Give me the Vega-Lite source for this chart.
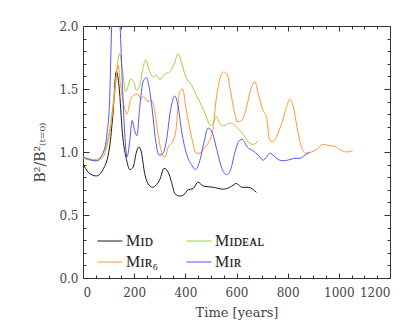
{
  "$schema": "https://vega.github.io/schema/vega-lite/v6.json",
  "autosize": "none",
  "width": 307,
  "height": 252,
  "padding": {"left": 83, "top": 26, "right": 25, "bottom": 54},
  "background": "white",
  "config": {
    "view": {"stroke": "#333", "strokeWidth": 1},
    "font": "DejaVu Serif",
    "axis": {"labelFont": "DejaVu Serif", "titleFont": "DejaVu Serif", "labelColor": "#444", "titleColor": "#444", "domainColor": "#333", "tickColor": "#333", "grid": false, "titleFontWeight": "normal"}
  },
  "data": {"values": [
    {"s":"M_ID","t":0,"v":0.91},{"s":"M_ID","t":20,"v":0.84},{"s":"M_ID","t":52,"v":0.81},{"s":"M_ID","t":78,"v":0.86},{"s":"M_ID","t":104,"v":1.04},{"s":"M_ID","t":117,"v":1.30},{"s":"M_ID","t":130,"v":1.64},{"s":"M_ID","t":141,"v":1.52},{"s":"M_ID","t":154,"v":1.15},{"s":"M_ID","t":170,"v":0.94},{"s":"M_ID","t":183,"v":0.86},{"s":"M_ID","t":196,"v":0.88},{"s":"M_ID","t":209,"v":1.00},{"s":"M_ID","t":219,"v":1.04},{"s":"M_ID","t":228,"v":1.00},{"s":"M_ID","t":241,"v":0.83},{"s":"M_ID","t":254,"v":0.75},{"s":"M_ID","t":271,"v":0.72},{"s":"M_ID","t":287,"v":0.74},{"s":"M_ID","t":300,"v":0.78},{"s":"M_ID","t":317,"v":0.87},{"s":"M_ID","t":333,"v":0.84},{"s":"M_ID","t":346,"v":0.76},{"s":"M_ID","t":359,"v":0.67},{"s":"M_ID","t":378,"v":0.65},{"s":"M_ID","t":394,"v":0.66},{"s":"M_ID","t":411,"v":0.70},{"s":"M_ID","t":430,"v":0.71},{"s":"M_ID","t":450,"v":0.76},{"s":"M_ID","t":470,"v":0.73},{"s":"M_ID","t":509,"v":0.72},{"s":"M_ID","t":548,"v":0.705},{"s":"M_ID","t":574,"v":0.72},{"s":"M_ID","t":600,"v":0.75},{"s":"M_ID","t":620,"v":0.72},{"s":"M_ID","t":646,"v":0.72},{"s":"M_ID","t":678,"v":0.68},
    {"s":"M_IDEAL","t":0,"v":0.96},{"s":"M_IDEAL","t":52,"v":0.94},{"s":"M_IDEAL","t":78,"v":0.99},{"s":"M_IDEAL","t":104,"v":1.17},{"s":"M_IDEAL","t":124,"v":1.49},{"s":"M_IDEAL","t":143,"v":1.78},{"s":"M_IDEAL","t":153,"v":1.675},{"s":"M_IDEAL","t":167,"v":1.48},{"s":"M_IDEAL","t":187,"v":1.58},{"s":"M_IDEAL","t":198,"v":1.56},{"s":"M_IDEAL","t":209,"v":1.49},{"s":"M_IDEAL","t":222,"v":1.53},{"s":"M_IDEAL","t":235,"v":1.67},{"s":"M_IDEAL","t":245,"v":1.73},{"s":"M_IDEAL","t":261,"v":1.635},{"s":"M_IDEAL","t":276,"v":1.595},{"s":"M_IDEAL","t":287,"v":1.61},{"s":"M_IDEAL","t":300,"v":1.575},{"s":"M_IDEAL","t":320,"v":1.62},{"s":"M_IDEAL","t":339,"v":1.635},{"s":"M_IDEAL","t":355,"v":1.69},{"s":"M_IDEAL","t":372,"v":1.78},{"s":"M_IDEAL","t":385,"v":1.71},{"s":"M_IDEAL","t":402,"v":1.595},{"s":"M_IDEAL","t":424,"v":1.53},{"s":"M_IDEAL","t":443,"v":1.45},{"s":"M_IDEAL","t":463,"v":1.37},{"s":"M_IDEAL","t":480,"v":1.29},{"s":"M_IDEAL","t":498,"v":1.21},{"s":"M_IDEAL","t":509,"v":1.225},{"s":"M_IDEAL","t":522,"v":1.28},{"s":"M_IDEAL","t":535,"v":1.225},{"s":"M_IDEAL","t":550,"v":1.21},{"s":"M_IDEAL","t":574,"v":1.23},{"s":"M_IDEAL","t":593,"v":1.21},{"s":"M_IDEAL","t":613,"v":1.17},{"s":"M_IDEAL","t":633,"v":1.12},{"s":"M_IDEAL","t":650,"v":1.07},{"s":"M_IDEAL","t":665,"v":1.06},{"s":"M_IDEAL","t":685,"v":1.09},
    {"s":"M_IR6","t":0,"v":0.95},{"s":"M_IR6","t":52,"v":0.93},{"s":"M_IR6","t":78,"v":0.96},{"s":"M_IR6","t":104,"v":1.15},{"s":"M_IR6","t":124,"v":1.46},{"s":"M_IR6","t":137,"v":1.69},{"s":"M_IR6","t":146,"v":1.54},{"s":"M_IR6","t":159,"v":1.38},{"s":"M_IR6","t":172,"v":1.30},{"s":"M_IR6","t":185,"v":1.41},{"s":"M_IR6","t":198,"v":1.45},{"s":"M_IR6","t":215,"v":1.46},{"s":"M_IR6","t":226,"v":1.42},{"s":"M_IR6","t":237,"v":1.44},{"s":"M_IR6","t":254,"v":1.40},{"s":"M_IR6","t":267,"v":1.41},{"s":"M_IR6","t":280,"v":1.33},{"s":"M_IR6","t":293,"v":1.15},{"s":"M_IR6","t":307,"v":1.00},{"s":"M_IR6","t":320,"v":0.96},{"s":"M_IR6","t":333,"v":1.04},{"s":"M_IR6","t":350,"v":1.08},{"s":"M_IR6","t":363,"v":1.17},{"s":"M_IR6","t":378,"v":1.48},{"s":"M_IR6","t":389,"v":1.50},{"s":"M_IR6","t":404,"v":1.33},{"s":"M_IR6","t":424,"v":1.12},{"s":"M_IR6","t":443,"v":0.99},{"s":"M_IR6","t":457,"v":0.99},{"s":"M_IR6","t":472,"v":1.03},{"s":"M_IR6","t":489,"v":1.07},{"s":"M_IR6","t":506,"v":1.16},{"s":"M_IR6","t":522,"v":1.44},{"s":"M_IR6","t":537,"v":1.595},{"s":"M_IR6","t":550,"v":1.635},{"s":"M_IR6","t":563,"v":1.62},{"s":"M_IR6","t":576,"v":1.49},{"s":"M_IR6","t":593,"v":1.305},{"s":"M_IR6","t":603,"v":1.24},{"s":"M_IR6","t":620,"v":1.25},{"s":"M_IR6","t":636,"v":1.33},{"s":"M_IR6","t":655,"v":1.49},{"s":"M_IR6","t":672,"v":1.56},{"s":"M_IR6","t":685,"v":1.46},{"s":"M_IR6","t":704,"v":1.33},{"s":"M_IR6","t":717,"v":1.28},{"s":"M_IR6","t":730,"v":1.09},{"s":"M_IR6","t":741,"v":1.08},{"s":"M_IR6","t":756,"v":1.12},{"s":"M_IR6","t":776,"v":1.225},{"s":"M_IR6","t":796,"v":1.36},{"s":"M_IR6","t":809,"v":1.42},{"s":"M_IR6","t":822,"v":1.36},{"s":"M_IR6","t":839,"v":1.17},{"s":"M_IR6","t":854,"v":1.04},{"s":"M_IR6","t":871,"v":0.99},{"s":"M_IR6","t":893,"v":1.00},{"s":"M_IR6","t":913,"v":1.02},{"s":"M_IR6","t":937,"v":1.06},{"s":"M_IR6","t":965,"v":1.05},{"s":"M_IR6","t":985,"v":1.045},{"s":"M_IR6","t":1004,"v":1.02},{"s":"M_IR6","t":1030,"v":1.00},{"s":"M_IR6","t":1054,"v":1.01},
    {"s":"M_IR","t":0,"v":0.96},{"s":"M_IR","t":52,"v":0.93},{"s":"M_IR","t":78,"v":0.99},{"s":"M_IR","t":94,"v":1.15},{"s":"M_IR","t":104,"v":1.41},{"s":"M_IR","t":112,"v":2.0},{"s":"M_IR","t":122,"v":2.4},{"s":"M_IR","t":135,"v":2.35},{"s":"M_IR","t":145,"v":2.0},{"s":"M_IR","t":154,"v":1.54},{"s":"M_IR","t":163,"v":1.15},{"s":"M_IR","t":172,"v":0.96},{"s":"M_IR","t":183,"v":1.09},{"s":"M_IR","t":192,"v":1.25},{"s":"M_IR","t":202,"v":1.17},{"s":"M_IR","t":211,"v":1.13},{"s":"M_IR","t":222,"v":1.36},{"s":"M_IR","t":235,"v":1.56},{"s":"M_IR","t":248,"v":1.59},{"s":"M_IR","t":258,"v":1.52},{"s":"M_IR","t":271,"v":1.33},{"s":"M_IR","t":284,"v":1.09},{"s":"M_IR","t":297,"v":0.975},{"s":"M_IR","t":313,"v":0.99},{"s":"M_IR","t":326,"v":1.09},{"s":"M_IR","t":342,"v":1.33},{"s":"M_IR","t":359,"v":1.445},{"s":"M_IR","t":372,"v":1.36},{"s":"M_IR","t":385,"v":1.17},{"s":"M_IR","t":404,"v":0.99},{"s":"M_IR","t":424,"v":0.90},{"s":"M_IR","t":440,"v":0.86},{"s":"M_IR","t":457,"v":0.935},{"s":"M_IR","t":472,"v":1.07},{"s":"M_IR","t":489,"v":1.19},{"s":"M_IR","t":506,"v":1.15},{"s":"M_IR","t":524,"v":1.01},{"s":"M_IR","t":541,"v":0.88},{"s":"M_IR","t":561,"v":0.82},{"s":"M_IR","t":577,"v":0.86},{"s":"M_IR","t":593,"v":0.99},{"s":"M_IR","t":610,"v":1.09},{"s":"M_IR","t":623,"v":1.10},{"s":"M_IR","t":642,"v":1.04},{"s":"M_IR","t":665,"v":1.01},{"s":"M_IR","t":685,"v":0.975},{"s":"M_IR","t":704,"v":0.935},{"s":"M_IR","t":717,"v":0.96},{"s":"M_IR","t":730,"v":0.99},{"s":"M_IR","t":746,"v":0.97},{"s":"M_IR","t":763,"v":0.94},{"s":"M_IR","t":783,"v":0.93},{"s":"M_IR","t":809,"v":0.94},{"s":"M_IR","t":828,"v":0.95},{"s":"M_IR","t":848,"v":0.95},{"s":"M_IR","t":867,"v":0.975},{"s":"M_IR","t":887,"v":1.00}
  ]},
  "resolve": {"axis": {"x": "independent", "y": "independent"}},
  "layer": [
    {
      "mark": {"type": "line", "strokeWidth": 1, "clip": true, "interpolate": "monotone"},
      "encoding": {
        "x": {"field": "t", "type": "quantitative", "scale": {"domain": [0, 1200], "nice": false},
          "axis": {"orient": "bottom", "values": [0,200,400,600,800,1000,1200], "format": "d", "tickSize": -5, "labelPadding": 14, "labelFontSize": 12, "title": "Time [years]", "titleFontSize": 13, "titlePadding": 8, "domain": false}},
        "y": {"field": "v", "type": "quantitative", "scale": {"domain": [0, 2], "nice": false},
          "axis": {"orient": "left", "values": [0,0.5,1,1.5,2], "format": ".1f", "tickSize": -6, "labelPadding": 11, "labelFontSize": 12, "title": "B²/B²₍ₜ₌₀₎", "titleFontSize": 14, "titlePadding": 11, "domain": false}},
        "color": {"field": "s", "type": "nominal",
          "scale": {"domain": ["M_ID", "M_IR6", "M_IDEAL", "M_IR"], "range": ["#1a1a1a", "#ff9933", "#9fd23c", "#5555ff"]},
          "legend": {"orient": "none", "legendX": 14, "legendY": 202, "columns": 2, "columnPadding": 25, "rowPadding": -2, "title": null, "symbolType": "stroke", "symbolSize": 625, "symbolStrokeWidth": 1, "labelFontSize": 16, "labelFont": "Liberation Serif", "labelColor": "#222", "labelOffset": 3,
            "labelExpr": "datum.value == 'M_ID' ? 'Mɪᴅ' : datum.value == 'M_IDEAL' ? 'Mɪᴅᴇᴀʟ' : datum.value == 'M_IR6' ? 'Mɪʀ₆' : 'Mɪʀ'"}}
      }
    },
    {
      "mark": {"type": "point", "opacity": 0},
      "encoding": {
        "x": {"field": "t", "type": "quantitative", "axis": {"orient": "bottom", "values": [50,100,150,250,300,350,450,500,550,650,700,750,850,900,950,1050,1100,1150], "tickSize": -3, "labels": false, "title": null, "domain": false}},
        "y": {"field": "v", "type": "quantitative", "axis": {"orient": "left", "values": [0.1,0.2,0.3,0.4,0.6,0.7,0.8,0.9,1.1,1.2,1.3,1.4,1.6,1.7,1.8,1.9], "tickSize": -3, "labels": false, "title": null, "domain": false}}
      }
    },
    {
      "mark": {"type": "point", "opacity": 0},
      "encoding": {
        "x": {"field": "t", "type": "quantitative", "axis": {"orient": "top", "values": [0,200,400,600,800,1000,1200], "tickSize": -5, "labels": false, "title": null, "domain": false}},
        "y": {"field": "v", "type": "quantitative", "axis": {"orient": "right", "values": [0,0.5,1,1.5,2], "tickSize": -6, "labels": false, "title": null, "domain": false}}
      }
    },
    {
      "mark": {"type": "point", "opacity": 0},
      "encoding": {
        "x": {"field": "t", "type": "quantitative", "axis": {"orient": "top", "values": [50,100,150,250,300,350,450,500,550,650,700,750,850,900,950,1050,1100,1150], "tickSize": -3, "labels": false, "title": null, "domain": false}},
        "y": {"field": "v", "type": "quantitative", "axis": {"orient": "right", "values": [0.1,0.2,0.3,0.4,0.6,0.7,0.8,0.9,1.1,1.2,1.3,1.4,1.6,1.7,1.8,1.9], "tickSize": -3, "labels": false, "title": null, "domain": false}}
      }
    }
  ]
}
